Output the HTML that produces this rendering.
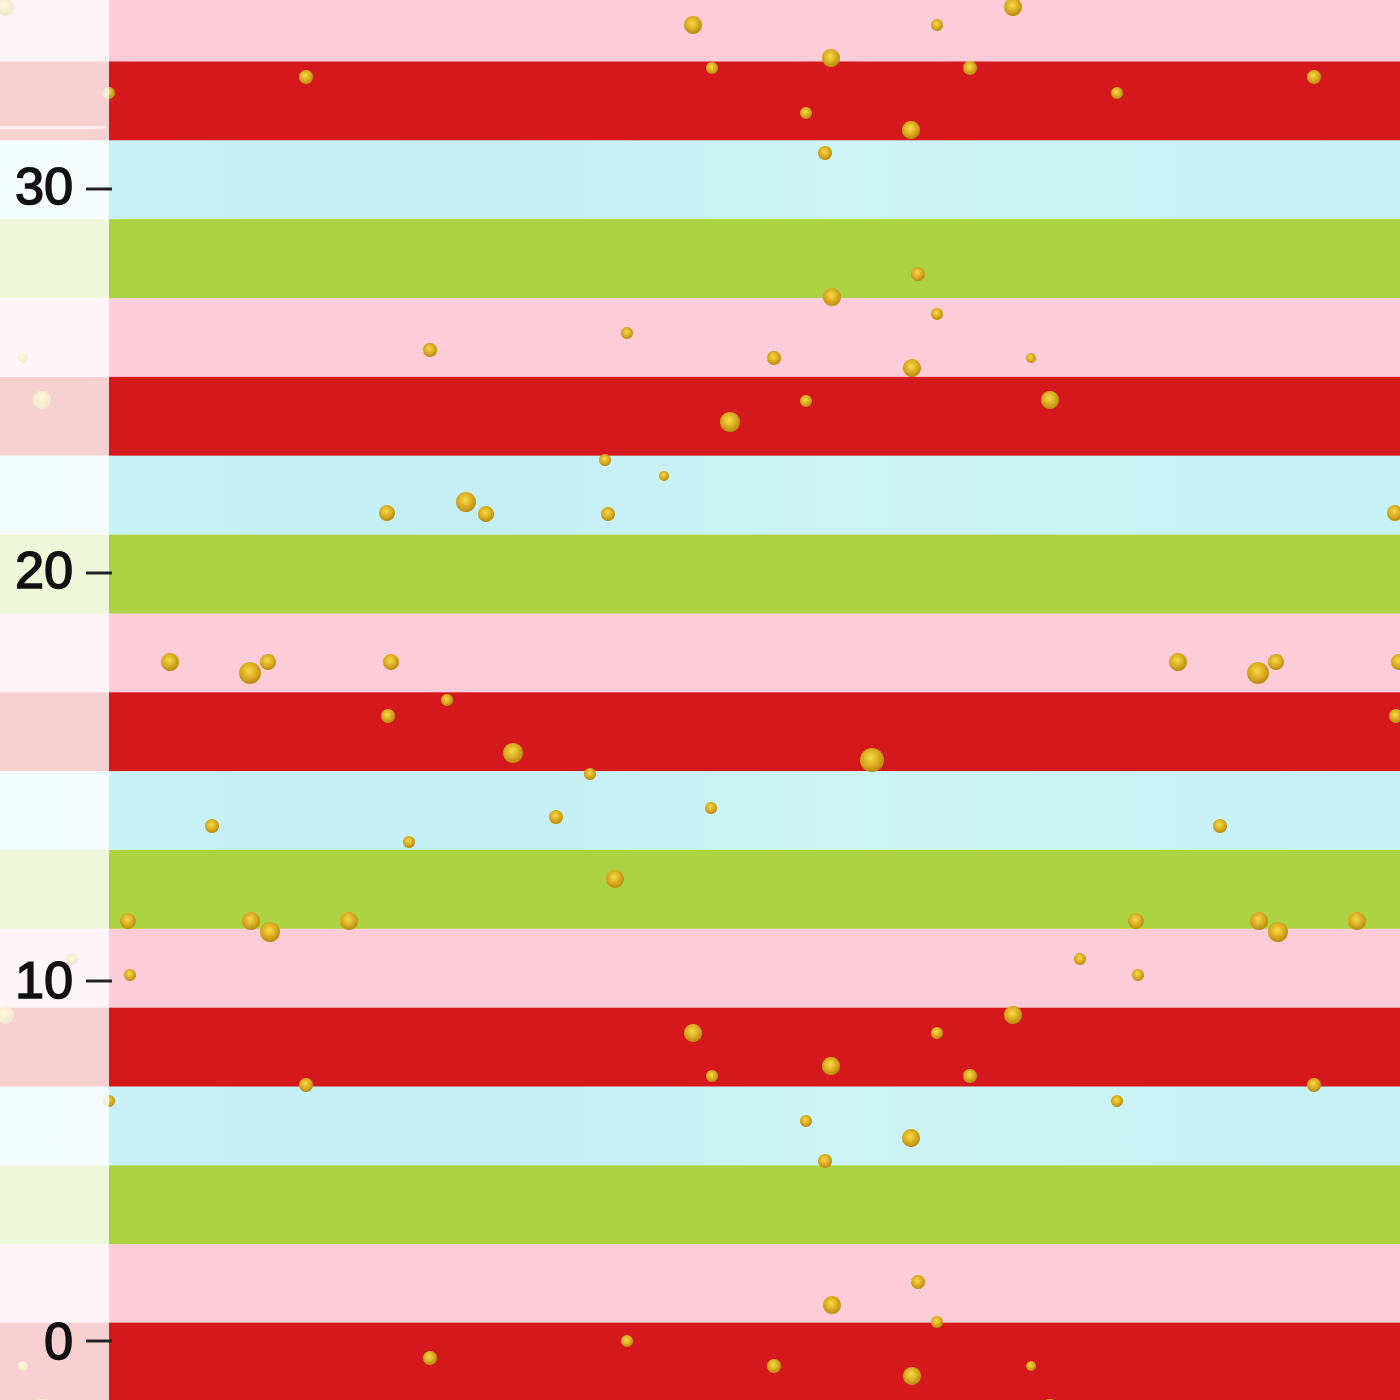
<!DOCTYPE html>
<html>
<head>
<meta charset="utf-8">
<style>
html,body{margin:0;padding:0;background:#fff;width:1400px;height:1400px;overflow:hidden;}
svg{display:block;overflow:hidden;}
</style>
</head>
<body>
<svg width="1400" height="1400" viewBox="0 0 1400 1400" xmlns="http://www.w3.org/2000/svg">
<defs>
<radialGradient id="gold" cx="45%" cy="40%" r="60%">
<stop offset="0" stop-color="#f6dc4a"/>
<stop offset="0.55" stop-color="#dcae22"/>
<stop offset="1" stop-color="#b98a10"/>
</radialGradient>
<linearGradient id="bluegrad" x1="0" y1="0" x2="1" y2="0">
<stop offset="0" stop-color="#c8f2f6"/>
<stop offset="0.35" stop-color="#c4eff5"/>
<stop offset="0.6" stop-color="#cdf5f7"/>
<stop offset="1" stop-color="#c6f1f5"/>
</linearGradient>
<pattern id="dotpat" patternUnits="userSpaceOnUse" x="0" y="0" width="1008" height="1008">
<g fill="url(#gold)">
<circle cx="693" cy="25" r="9"/><circle cx="937" cy="25" r="6"/><circle cx="1013" cy="7" r="9"/><circle cx="5" cy="7" r="9"/>
<circle cx="1013" cy="1015" r="9"/><circle cx="5" cy="1015" r="9"/><circle cx="831" cy="58" r="9"/><circle cx="712" cy="68" r="6"/>
<circle cx="970" cy="68" r="7"/><circle cx="306" cy="77" r="7"/><circle cx="109" cy="93" r="6"/><circle cx="806" cy="113" r="6"/>
<circle cx="911" cy="130" r="9"/><circle cx="825" cy="153" r="7"/><circle cx="918" cy="274" r="7"/><circle cx="832" cy="297" r="9"/>
<circle cx="937" cy="314" r="6"/><circle cx="627" cy="333" r="6"/><circle cx="430" cy="350" r="7"/><circle cx="774" cy="358" r="7"/>
<circle cx="23" cy="358" r="5"/><circle cx="912" cy="368" r="9"/><circle cx="42" cy="400" r="9"/><circle cx="806" cy="401" r="6"/>
<circle cx="730" cy="422" r="10"/><circle cx="605" cy="460" r="6"/><circle cx="664" cy="476" r="5"/><circle cx="466" cy="502" r="10"/>
<circle cx="486" cy="514" r="8"/><circle cx="387" cy="513" r="8"/><circle cx="608" cy="514" r="7"/><circle cx="170" cy="662" r="9"/>
<circle cx="250" cy="673" r="11"/><circle cx="268" cy="662" r="8"/><circle cx="391" cy="662" r="8"/><circle cx="447" cy="700" r="6"/>
<circle cx="388" cy="716" r="7"/><circle cx="513" cy="753" r="10"/><circle cx="872" cy="760" r="12"/><circle cx="590" cy="774" r="6"/>
<circle cx="711" cy="808" r="6"/><circle cx="556" cy="817" r="7"/><circle cx="212" cy="826" r="7"/><circle cx="409" cy="842" r="6"/>
<circle cx="615" cy="879" r="9"/><circle cx="128" cy="921" r="8"/><circle cx="251" cy="921" r="9"/><circle cx="270" cy="932" r="10"/>
<circle cx="349" cy="921" r="9"/><circle cx="72" cy="959" r="6"/><circle cx="130" cy="975" r="6"/>
</g>
</pattern>
</defs>
<rect x="0" y="0" width="1400" height="61.5" fill="#fccdd9"/>
<rect x="0" y="61.5" width="1400" height="78.9" fill="#d5181b"/>
<rect x="0" y="140.35" width="1400" height="78.9" fill="url(#bluegrad)"/>
<rect x="0" y="219.2" width="1400" height="78.9" fill="#acd442"/>
<rect x="0" y="298.05" width="1400" height="78.9" fill="#fccdd9"/>
<rect x="0" y="376.9" width="1400" height="78.9" fill="#d5181b"/>
<rect x="0" y="455.75" width="1400" height="78.9" fill="url(#bluegrad)"/>
<rect x="0" y="534.6" width="1400" height="78.9" fill="#acd442"/>
<rect x="0" y="613.45" width="1400" height="78.9" fill="#fccdd9"/>
<rect x="0" y="692.3" width="1400" height="78.9" fill="#d5181b"/>
<rect x="0" y="771.15" width="1400" height="78.9" fill="url(#bluegrad)"/>
<rect x="0" y="850" width="1400" height="78.9" fill="#acd442"/>
<rect x="0" y="928.85" width="1400" height="78.9" fill="#fccdd9"/>
<rect x="0" y="1007.7" width="1400" height="78.9" fill="#d5181b"/>
<rect x="0" y="1086.55" width="1400" height="78.9" fill="url(#bluegrad)"/>
<rect x="0" y="1165.4" width="1400" height="78.9" fill="#acd442"/>
<rect x="0" y="1244.25" width="1400" height="78.9" fill="#fccdd9"/>
<rect x="0" y="1322.7" width="1400" height="77.3" fill="#d5181b"/>
<rect x="0" y="0" width="1400" height="1400" fill="url(#dotpat)"/>
<rect x="0" y="0" width="109" height="1400" fill="#ffffff" fill-opacity="0.8"/>
<rect x="0" y="126" width="106" height="3" fill="#ffffff" fill-opacity="0.6"/>
<g fill="#222">
<rect x="86" y="187.5" width="26" height="3"/>
<rect x="86" y="571.5" width="26" height="3"/>
<rect x="86" y="979.5" width="26" height="3"/>
<rect x="86" y="1339.5" width="26" height="3"/>
</g>
<g font-family="'Liberation Sans', 'DejaVu Sans', sans-serif" font-size="52" fill="#111" stroke="#111" stroke-width="1.6" text-anchor="end">
<text x="73" y="204">30</text>
<text x="73" y="588">20</text>
<text x="73" y="998">10</text>
<text x="73" y="1359">0</text>
</g>
</svg>
</body>
</html>
